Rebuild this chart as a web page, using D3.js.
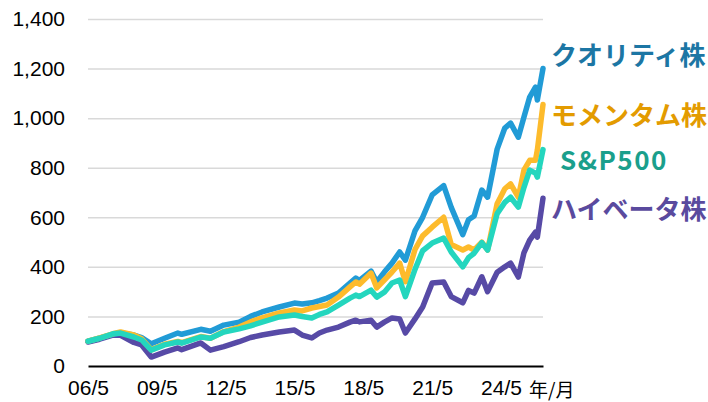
<!DOCTYPE html>
<html>
<head>
<meta charset="utf-8">
<script src="https://cdn.jsdelivr.net/npm/d3@7"></script>
<style>
  body { margin: 0; background: #fff; }
  svg { display: block; }
  .tick text { font-family: "Liberation Sans", Arial, sans-serif; font-size: 21px; fill: #000; }
  .label { font-family: "Noto Sans CJK JP", sans-serif; font-weight: 700; font-size: 26px; }
</style>
</head>
<body>
<div id="chart"></div>
<script>
const w = 708;
const h = 402;
const parseMonth = d3.timeParse("%Y-%m");

const dates = [
  "2006-05", "2006-11", "2007-06", "2007-10", "2008-05", "2008-09", "2009-02", "2009-09", "2010-04", "2010-06",
  "2011-04", "2011-09", "2012-04", "2012-12", "2013-06", "2013-12", "2014-09", "2015-05", "2015-09", "2016-02",
  "2016-06", "2016-10", "2017-04", "2017-10", "2018-01", "2018-03", "2018-09", "2018-12", "2019-04", "2019-08",
  "2019-12", "2020-03", "2020-08", "2020-12", "2021-05", "2021-11", "2022-03", "2022-09", "2022-12", "2023-03",
  "2023-07", "2023-10", "2024-03", "2024-07", "2024-10", "2025-02", "2025-05", "2025-08", "2025-11", "2025-12",
  "2026-03"
];
const quality = [
  100, 112, 128, 133, 125, 115, 90, 112, 133, 128,
  148, 140, 165, 177, 200, 218, 238, 254, 250, 255,
  264, 274, 294, 335, 355, 345, 383, 339, 379, 415,
  460, 427, 545, 600, 690, 728, 640, 530, 590, 605,
  710, 681, 875, 960, 980, 923, 1004, 1085, 1125, 1073,
  1200
];
const momentum = [
  100, 113, 130, 137, 125, 110, 66, 88, 99, 94,
  119, 112, 139, 157, 178, 194, 214, 226, 222, 234,
  240, 246, 278, 319, 339, 330, 375, 315, 347, 379,
  415, 340, 470, 525, 560, 600, 490, 468, 480, 468,
  500, 468, 655, 715, 735, 681, 790, 830, 830, 871,
  1055
];
const sp500 = [
  100, 112, 130, 133, 117, 105, 64, 85, 97, 92,
  117, 112, 137, 150, 162, 177, 198, 206, 200, 194,
  208, 218, 246, 274, 286, 280, 306, 278, 298, 335,
  347, 280, 390, 465, 496, 516, 460, 400, 437, 455,
  498, 468, 615, 660, 681, 641, 720, 790, 778, 762,
  873
];
const highBeta = [
  97, 108, 125, 124, 95, 85, 36, 56, 73, 66,
  93, 64, 78, 98, 115, 125, 137, 145, 125, 113,
  133, 145, 157, 177, 185, 178, 185, 157, 177, 194,
  190, 133, 190, 238, 335, 339, 280, 255, 305, 294,
  360, 300, 378, 400, 415, 359, 456, 508, 540, 520,
  677
];
const xTicks = ["2006-05", "2009-05", "2012-05", "2015-05", "2018-05", "2021-05", "2024-05"];
const yTicks = [0, 200, 400, 600, 800, 1000, 1200, 1400];

const series = [
  { name: "ハイベータ株", values: highBeta, color: "#574aa6", text: "#5a4a9e", ly: 210 },
  { name: "クオリティ株", values: quality, color: "#219bd6", text: "#1c76a4", ly: 56 },
  { name: "モメンタム株", values: momentum, color: "#fdbb2c", text: "#e39b00", ly: 116 },
  { name: "S&P500", values: sp500, color: "#24d6be", text: "#1a9f8c", ly: 161, lx: 560, ls: 1.5 }
];

const svg = d3.select("#chart").append("svg").attr("width", w).attr("height", h);

const x = d3.scaleTime()
  .domain([parseMonth(dates[0]), parseMonth(dates[dates.length - 1])])
  .range([88, 543]);
const y = d3.scaleLinear().domain([0, 1400]).range([366, 19]);

// grid + y labels
const yAxis = svg.append("g")
  .attr("transform", "translate(88,0)")
  .call(d3.axisLeft(y).tickValues(yTicks).tickFormat(d3.format(",")).tickSize(-455).tickPadding(23));
yAxis.select(".domain").remove();
yAxis.selectAll(".tick line").attr("stroke", "#d9d9d9").attr("stroke-width", 1.5);
yAxis.selectAll(".tick").filter((d) => d === 0).select("line").remove();

// x axis
const xAxis = svg.append("g")
  .attr("transform", `translate(0,${y(0)})`)
  .call(d3.axisBottom(x).tickValues(xTicks.map(parseMonth)).tickFormat(d3.timeFormat("%y/%-m")).tickSize(0).tickPadding(14));
xAxis.select(".domain").attr("stroke", "#000").attr("stroke-width", 2);

svg.append("text")
  .attr("x", 529)
  .attr("y", 397)
  .attr("font-family", "'Noto Sans CJK JP', sans-serif")
  .attr("font-size", 19)
  .text("年/月");

const line = d3.line()
  .x((d, i) => x(parseMonth(dates[i])))
  .y((d) => y(d));

svg.selectAll("path.series")
  .data(series)
  .enter()
  .append("path")
  .attr("class", "series")
  .attr("fill", "none")
  .attr("stroke", (d) => d.color)
  .attr("stroke-width", 5.5)
  .attr("stroke-linejoin", "round")
  .attr("stroke-linecap", "round")
  .attr("d", (d) => line(d.values));

svg.selectAll("text.label")
  .data(series)
  .enter()
  .append("text")
  .attr("class", "label")
  .attr("x", (d) => d.lx || 551)
  .attr("y", (d) => d.ly)
  .attr("dy", "0.35em")
  .attr("letter-spacing", (d) => d.ls || 0)
  .attr("fill", (d) => d.text)
  .text((d) => d.name);
</script>
</body>
</html>
